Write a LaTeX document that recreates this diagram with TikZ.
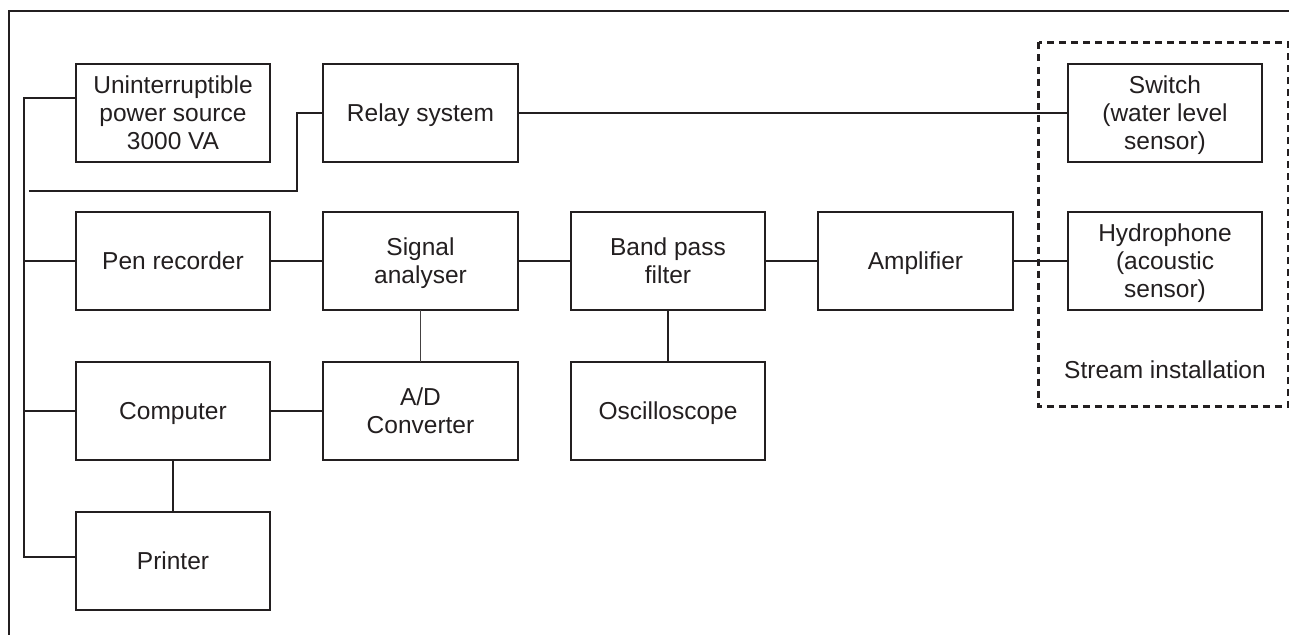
\documentclass[tikz,border=0pt]{standalone}
\usepackage{fontspec}
\setmainfont{Liberation Sans}
\usetikzlibrary{positioning, calc}
\definecolor{Ink}{HTML}{231F20}

\begin{document}
\begin{tikzpicture}[x=1pt, y=1pt,
		node distance=52pt and 53pt,
		block/.style={draw=Ink, line width=2pt, fill=white,
			minimum width=194.5pt, minimum height=98pt, text depth=0pt,
			outer sep=0pt, inner sep=2pt, text=Ink, align=center,
			font=\fontsize{24.5}{28}\selectfont},
		label/.style={text=Ink, font=\fontsize{24.5}{28}\selectfont},
		link/.style={draw=Ink, line width=2pt},
		thinlink/.style={draw=Ink!85, line width=1.1pt},
		zone/.style={draw=Ink, line width=3pt, dash pattern=on 7pt off 5pt},
		]
		\useasboundingbox (0,0) rectangle (1289,-634);
		% ── Outer frame ──────────────────────────────────────────────────────────────
		\draw[link, line width=2.2pt] (9,-660) -- (9,-11) -- (1310,-11);
		% ── Blocks, left to right ────────────────────────────────────────────────────
		\node[block]                       (ups)     at (173,-112.5) {Uninterruptible\\power source\\3000 VA};
		\node[block, right=of ups]         (relay)   {Relay system};
		\node[block, below=50pt of ups]    (pen)     {Pen recorder};
		\node[block, below=of pen]         (comp)    {Computer};
		\node[block, below=of comp]        (printer) {Printer};
		\node[block, right=of pen]         (sa)      {Signal\\analyser};
		\node[block, right=of comp]        (adc)     {A/D\\Converter};
		\node[block, right=of sa]          (bpf)     {Band pass\\filter};
		\node[block, below=of bpf]         (osc)     {Oscilloscope};
		\node[block, right=of bpf]         (amp)     {Amplifier};
		\node[block, right=55pt of amp]    (hydro)   {Hydrophone\\(acoustic\\sensor)};
		\node[block, above=50pt of hydro]  (switch)  {Switch\\(water level\\sensor)};
		\node[label] (stream) at ($(hydro.south)+(0,-60)$) {Stream installation};
		% ── Power bus on the left ────────────────────────────────────────────────────
		\coordinate (upsin)  at ($(ups.west)+(0,15)$);
		\coordinate (bustop) at ($(upsin)+(-52,0)$);
		\coordinate (prnin)  at ($(printer.west)+(0,4)$);
		\coordinate (relayfeed) at ($(bustop)+(5,-93)$);
		\draw[link] (upsin) -- (bustop) -- (bustop |- prnin) -- (prnin);
		\draw[link] (bustop |- pen.west)  -- (pen.west);
		\draw[link] (bustop |- comp.west) -- (comp.west);
		\draw[link] (relayfeed) -- ++(268,0) |- (relay.west);
		% ── Signal chain ─────────────────────────────────────────────────────────────
		\foreach \x/\y in {relay/switch, pen/sa, sa/bpf, bpf/amp, amp/hydro,
			comp/adc, comp/printer, bpf/osc}
		\draw[link] (\x) -- (\y);
		\draw[thinlink] (sa) -- (adc);
		% ── Stream installation ──────────────────────────────────────────────────────
		\draw[zone] ($(switch.north west)+(-29,21)$) rectangle ($(hydro.south east)+(26,-97)$);
	\end{tikzpicture}
\end{document}
